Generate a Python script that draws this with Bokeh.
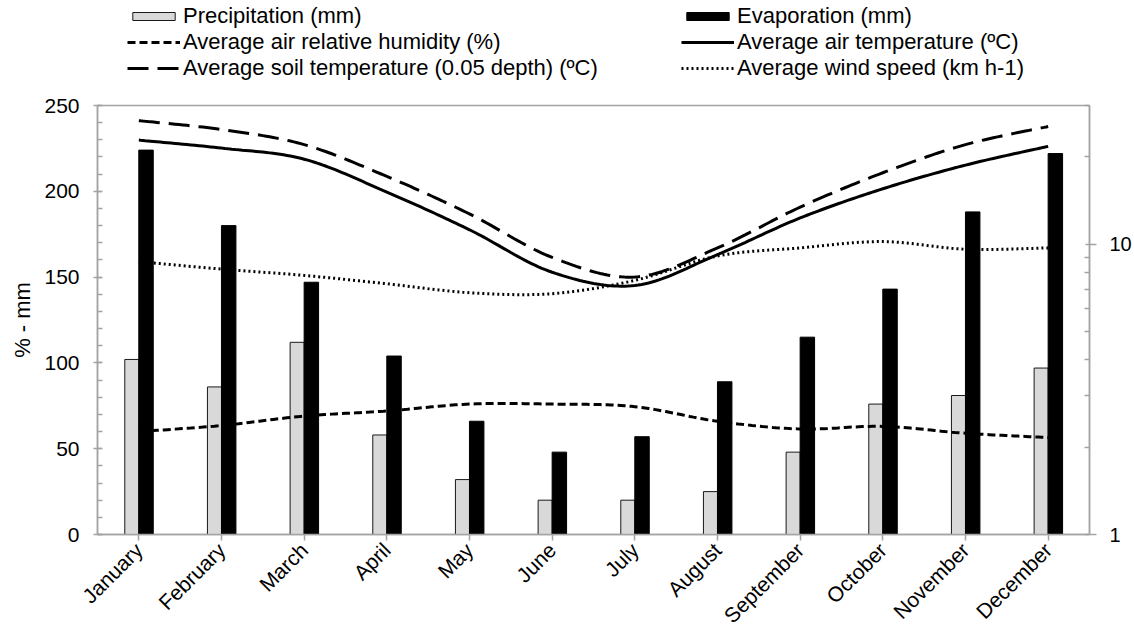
import numpy as np
from bokeh.plotting import figure
from bokeh.layouts import column
from bokeh.models import (Range1d, LogScale, LogAxis, FixedTicker, SingleIntervalTicker,
                          Legend, LegendItem, BasicTickFormatter, ColumnDataSource)
from bokeh.transform import dodge
from bokeh.embed import file_html
from bokeh.resources import INLINE

# Monthly climate normals
months = ["January", "February", "March", "April", "May", "June",
          "July", "August", "September", "October", "November", "December"]
precipitation = [102, 86, 112, 58, 32, 20, 20, 25, 48, 76, 81, 97]          # mm
evaporation = [224, 180, 147, 104, 66, 48, 57, 89, 115, 143, 188, 222]      # mm
humidity = [60, 63.5, 69, 72, 76, 76, 74.5, 66, 61.5, 63, 59, 56.5]        # %
air_temp = [22.8, 21.4, 19.6, 15.1, 11.2, 8.0, 7.2, 9.2, 12.3, 15.5, 18.7, 21.7]    # ºC
soil_temp = [26.6, 24.8, 22.0, 17.1, 12.7, 9.0, 7.7, 9.7, 13.4, 17.6, 22.0, 25.4]  # ºC
wind_speed = [8.7, 8.2, 7.8, 7.3, 6.8, 6.75, 7.5, 9.1, 9.7, 10.2, 9.6, 9.7]        # km h-1

right_major_ticks = [1, 10]
right_minor_ticks = [2, 3, 4, 5, 6, 7, 8, 9, 20, 30]

FONT = "Liberation Sans"
AXIS_GREY = "#a3a3a3"
TICK_FONT_SIZE = "21px"

# series styles, shared by the chart and its legend strip
PREC_STYLE = dict(fill_color="#d9d9d9", line_color="#1a1a1a", line_width=1)
EVAP_STYLE = dict(fill_color="black", line_color="black", line_width=1)
HUM_STYLE = dict(line_color="black", line_width=3, line_dash="8 4")
SOIL_STYLE = dict(line_color="black", line_width=3, line_dash="21 9")
AIR_STYLE = dict(line_color="black", line_width=3)
WIND_STYLE = dict(line_color="black", line_width=3, line_dash="2 3")

centers = np.arange(len(months)) + 0.5


def smooth(xs, ys, log=False, n=24):
    """Cubic Bezier smoothing through the points (Catmull-Rom control points)."""
    xs = np.asarray(xs, float)
    ys = np.asarray(ys, float)
    if log:
        ys = np.log10(ys)
    pts = np.column_stack([xs, ys])
    out = []
    m = len(pts)
    for i in range(m - 1):
        p0 = pts[i - 1] if i > 0 else pts[i]
        p1, p2 = pts[i], pts[i + 1]
        p3 = pts[i + 2] if i + 2 < m else pts[i + 1]
        c1 = p1 + (p2 - p0) / 6.0
        c2 = p2 - (p3 - p1) / 6.0
        t = np.linspace(0, 1, n, endpoint=(i == m - 2))[:, None]
        seg = ((1 - t) ** 3) * p1 + 3 * ((1 - t) ** 2) * t * c1 + 3 * (1 - t) * t ** 2 * c2 + t ** 3 * p2
        out.append(seg)
    out = np.vstack(out)
    sy = 10 ** out[:, 1] if log else out[:, 1]
    return out[:, 0], sy


LEGEND_H = 95

p = figure(width=1134, height=640 - LEGEND_H, x_range=Range1d(0, 12), y_range=Range1d(0, 250),
           output_backend="svg", toolbar_location=None,
           min_border_left=97, min_border_right=44, min_border_top=105 - LEGEND_H,
           min_border_bottom=106)
p.xgrid.visible = False
p.ygrid.visible = False
p.outline_line_color = AXIS_GREY
p.outline_line_width = 1.5
p.background_fill_color = "white"
p.border_fill_color = "white"

# secondary logarithmic scale for temperatures and wind speed
p.extra_y_ranges = {"log": Range1d(1, 30)}
p.extra_y_scales = {"log": LogScale()}

bars = ColumnDataSource(dict(x=centers, prec=precipitation, evap=evaporation))
p.vbar(x=dodge("x", -0.085), top="prec", width=0.17, bottom=0, source=bars, **PREC_STYLE)
p.vbar(x=dodge("x", 0.087), top="evap", width=0.175, bottom=0, source=bars, **EVAP_STYLE)

hx, hy = smooth(centers, humidity)
p.line(hx, hy, **HUM_STYLE)

sx, sy = smooth(centers, soil_temp, log=True)
p.line(sx, sy, y_range_name="log", **SOIL_STYLE)

ax, ay = smooth(centers, air_temp, log=True)
p.line(ax, ay, y_range_name="log", **AIR_STYLE)

wx, wy = smooth(centers, wind_speed, log=True)
p.line(wx, wy, y_range_name="log", **WIND_STYLE)

# bottom axis with month names
xa = p.xaxis[0]
xa.ticker = FixedTicker(ticks=list(centers))
xa.major_label_overrides = {float(c): m for c, m in zip(centers, months)}
xa.major_label_orientation = np.pi / 4
xa.major_label_text_font = FONT
xa.major_label_text_font_size = TICK_FONT_SIZE
xa.major_label_text_color = "black"
xa.major_label_standoff = 6
xa.axis_line_color = AXIS_GREY
xa.axis_line_width = 1.5
xa.major_tick_line_color = AXIS_GREY
xa.major_tick_line_width = 1.5
xa.major_tick_in = 0
xa.major_tick_out = 6
xa.minor_tick_line_color = None

# left axis
ya = p.yaxis[0]
ya.ticker = SingleIntervalTicker(interval=50, num_minor_ticks=5)
ya.axis_label = "% - mm"
ya.axis_label_text_font = FONT
ya.axis_label_text_font_size = "22px"
ya.axis_label_text_font_style = "normal"
ya.axis_label_text_color = "black"
ya.axis_label_standoff = 6
ya.major_label_text_font = FONT
ya.major_label_text_font_size = TICK_FONT_SIZE
ya.major_label_text_color = "black"
ya.major_label_standoff = 14
ya.axis_line_color = AXIS_GREY
ya.axis_line_width = 1.5
ya.major_tick_line_color = AXIS_GREY
ya.major_tick_line_width = 1.5
ya.minor_tick_line_color = AXIS_GREY
ya.minor_tick_line_width = 1.5
ya.major_tick_in = 4
ya.major_tick_out = 4
ya.minor_tick_in = 5
ya.minor_tick_out = 0

# right logarithmic axis
ra = LogAxis(y_range_name="log", formatter=BasicTickFormatter(),
             ticker=FixedTicker(ticks=right_major_ticks, minor_ticks=right_minor_ticks))
ra.major_label_text_font = FONT
ra.major_label_text_font_size = "20px"
ra.major_label_text_color = "black"
ra.major_label_standoff = 13
ra.axis_line_color = AXIS_GREY
ra.axis_line_width = 1.5
ra.major_tick_line_color = AXIS_GREY
ra.major_tick_line_width = 1.5
ra.minor_tick_line_color = AXIS_GREY
ra.minor_tick_line_width = 1.5
ra.major_tick_in = 4
ra.major_tick_out = 7
ra.minor_tick_in = 5
ra.minor_tick_out = 0
p.add_layout(ra, "right")

# legend strip above the chart: key renderers carry the series styles but
# hold a single NaN row, so only their legend glyphs are drawn
lf = figure(width=1134, height=LEGEND_H, x_range=Range1d(0, 1), y_range=Range1d(0, 1),
            x_axis_type=None, y_axis_type=None, output_backend="svg", toolbar_location=None,
            min_border=0)
lf.xgrid.visible = False
lf.ygrid.visible = False
lf.outline_line_color = None
lf.background_fill_color = "white"
lf.border_fill_color = "white"

empty = [np.nan]
k_prec = lf.vbar(x=empty, top=empty, width=0.1, **PREC_STYLE)
k_evap = lf.vbar(x=empty, top=empty, width=0.1, **EVAP_STYLE)
k_hum = lf.line(x=empty, y=empty, **HUM_STYLE)
k_soil = lf.line(x=empty, y=empty, **SOIL_STYLE)
k_air = lf.line(x=empty, y=empty, **AIR_STYLE)
k_wind = lf.line(x=empty, y=empty, **WIND_STYLE)


def make_legend(items, loc):
    lg = Legend(items=items, location=loc)
    lg.label_text_font = FONT
    lg.label_text_font_size = "22px"
    lg.label_text_line_height = 1.1
    lg.label_text_color = "black"
    lg.glyph_width = 53
    lg.glyph_height = 10
    lg.label_height = 20
    lg.label_standoff = 3
    lg.spacing = 0
    lg.padding = 0
    lg.margin = 0
    lg.border_line_alpha = 0
    lg.background_fill_alpha = 0
    return lg


# the strip's frame lines up with the chart frame (left edge at 97 px)
lf.add_layout(make_legend([
    LegendItem(label="Precipitation (mm)", renderers=[k_prec]),
    LegendItem(label="Average air relative humidity (%)", renderers=[k_hum]),
    LegendItem(label="Average soil temperature (0.05 depth) (ºC)", renderers=[k_soil]),
], (30, 14)))
lf.add_layout(make_legend([
    LegendItem(label="Evaporation (mm)", renderers=[k_evap]),
    LegendItem(label="Average air temperature (ºC)", renderers=[k_air]),
    LegendItem(label="Average wind speed (km h-1)", renderers=[k_wind]),
], (584, 14)))

open("out.html", "w").write(file_html(column(lf, p, spacing=0), INLINE))
